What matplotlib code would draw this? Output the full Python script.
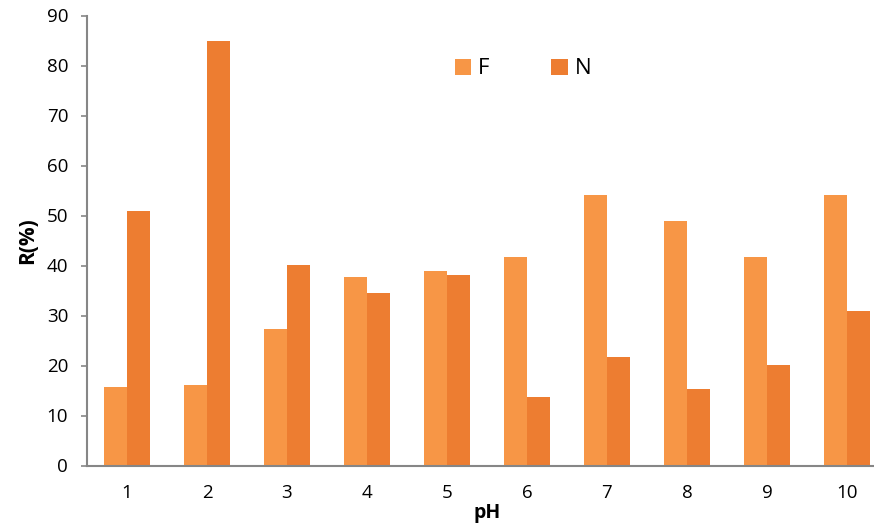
import numpy as np
import matplotlib.pyplot as plt

ph = [1, 2, 3, 4, 5, 6, 7, 8, 9, 10]
f_vals = [15.8, 16.2, 27.4, 37.8, 39.0, 41.8, 54.1, 48.9, 41.7, 54.1]
n_vals = [51.0, 84.9, 40.1, 34.6, 38.2, 13.8, 21.7, 15.3, 20.1, 30.9]

plt.rcParams["font.family"] = ["Open Sans", "DejaVu Sans"]

fig = plt.figure(figsize=(8.74, 5.29), dpi=100)
ax = fig.add_axes([87 / 874, 63.5 / 529, 800 / 874, 450 / 529])

x = np.arange(len(ph)) + 1
w = 0.29
ax.bar(x - w / 2, f_vals, w, color="#F79646", label="F")
ax.bar(x + w / 2, n_vals, w, color="#ED7D31", label="N")

ax.set_xlim(0.5, 10.5)
ax.set_ylim(0, 90)
ax.set_yticks(range(0, 91, 10))
ax.set_xticks(x)
ax.set_xticklabels([str(p) for p in ph])

for s in ["top", "right"]:
    ax.spines[s].set_visible(False)
for s in ["left", "bottom"]:
    ax.spines[s].set_color("#868686")
    ax.spines[s].set_linewidth(1.5)

ax.tick_params(axis="y", length=4.5, width=1.2, color="#868686", pad=9, labelsize=13.5)
ax.tick_params(axis="x", length=0, pad=13, labelsize=13.5)

ax.set_ylabel("R(%)", fontsize=15, fontweight="bold", labelpad=6)
ax.set_xlabel("pH", fontsize=14, fontweight="bold", labelpad=1)

ax.legend(loc="center", bbox_to_anchor=(523 / 874, 1 - 69 / 529),
          bbox_transform=fig.transFigure, ncol=2, frameon=False,
          handlelength=0.75, handleheight=0.7, handletextpad=0.3,
          columnspacing=2.8, fontsize=16)

fig.savefig("out.png", dpi=100)
